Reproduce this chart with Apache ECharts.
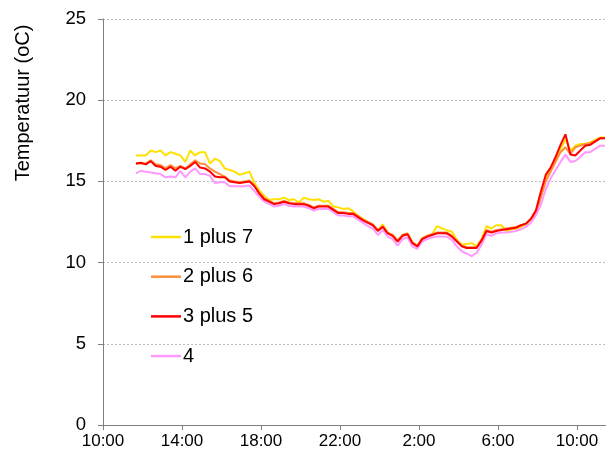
<!DOCTYPE html>
<html>
<head>
<meta charset="utf-8">
<script src="https://cdn.jsdelivr.net/npm/echarts@6/dist/echarts.min.js"></script>
<style>
  html, body { margin: 0; padding: 0; background: #fff; }
  #chart { width: 606px; height: 453px; }
</style>
</head>
<body>
<div id="chart"></div>
<script>
// Measurement times (every 15 minutes, from late morning to the next morning)
const times = [
  '11:40','11:55',
  '12:10','12:25','12:40','12:55',
  '13:10','13:25','13:40','13:55',
  '14:10','14:25','14:40','14:55',
  '15:10','15:25','15:40','15:55',
  '16:10','16:25','16:40','16:55',
  '17:10','17:25','17:40','17:55',
  '18:10','18:25','18:40','18:55',
  '19:10','19:25','19:40','19:55',
  '20:10','20:25','20:40','20:55',
  '21:10','21:25','21:40','21:55',
  '22:10','22:25','22:40','22:55',
  '23:10','23:25','23:40','23:55',
  '0:10','0:25','0:40','0:55',
  '1:10','1:25','1:40','1:55',
  '2:10','2:25','2:40','2:55',
  '3:10','3:25','3:40','3:55',
  '4:10','4:25','4:40','4:55',
  '5:10','5:25','5:40','5:55',
  '6:10','6:25','6:40','6:55',
  '7:10','7:25','7:40','7:55',
  '8:10','8:25','8:40','8:55',
  '9:10','9:25','9:40','9:55',
  '10:10','10:25','10:40','10:55',
  '11:10','11:25'
];

// Temperatures (oC)
const s1plus7 = [
  16.6,16.6,16.6,16.9,16.8,16.9,16.6,16.8,16.7,16.6,
  16.2,16.9,16.6,16.8,16.8,16.1,16.4,16.25,15.8,15.7,
  15.6,15.4,15.5,15.6,14.9,14.45,14.1,13.85,13.9,13.9,
  14.0,13.85,13.9,13.7,14.0,13.9,13.85,13.9,13.75,13.8,
  13.45,13.4,13.3,13.35,13.15,12.9,12.7,12.5,12.3,12.0,
  12.35,11.85,11.7,11.35,11.7,11.8,11.25,11.0,11.5,11.65,
  11.75,12.25,12.1,12.0,11.9,11.4,11.1,11.15,11.2,11.0,
  11.45,12.25,12.1,12.3,12.3,11.95,12.05,12.1,12.2,12.35,
  12.65,13.1,14.2,15.2,15.7,16.3,17.0,17.6,16.9,17.2,
  17.3,17.3,17.4,17.55,17.7,17.7
];
const s2plus6 = [
  16.1,16.1,16.1,16.3,16.05,16.0,15.8,16.0,15.8,15.95,
  15.8,16.05,16.3,16.1,16.05,15.8,15.6,15.45,15.3,15.05,
  15.0,14.95,15.0,15.05,14.75,14.3,13.95,13.8,13.65,13.7,
  13.8,13.7,13.65,13.65,13.65,13.55,13.4,13.5,13.5,13.5,
  13.3,13.1,13.1,13.05,13.05,12.85,12.65,12.5,12.35,12.0,
  12.25,11.85,11.7,11.35,11.7,11.8,11.25,11.05,11.5,11.65,
  11.75,11.85,11.85,11.85,11.65,11.35,11.05,10.95,10.95,10.95,
  11.4,12.0,11.9,12.0,12.05,12.1,12.15,12.2,12.3,12.4,
  12.65,13.0,14.0,15.0,15.6,16.2,16.8,17.1,16.7,17.1,
  17.2,17.3,17.35,17.5,17.65,17.65
];
const s3plus5 = [
  16.1,16.15,16.05,16.25,15.95,15.9,15.7,15.9,15.65,15.9,
  15.75,15.95,16.2,15.85,15.8,15.6,15.3,15.25,15.25,15.0,
  14.95,14.9,14.95,15.0,14.7,14.25,13.9,13.75,13.6,13.65,
  13.75,13.65,13.6,13.6,13.6,13.5,13.35,13.45,13.45,13.45,
  13.25,13.05,13.05,13.0,13.0,12.8,12.6,12.45,12.3,11.95,
  12.2,11.8,11.65,11.3,11.65,11.75,11.2,11.0,11.45,11.6,
  11.7,11.8,11.8,11.8,11.6,11.3,11.0,10.9,10.9,10.9,
  11.35,11.95,11.85,11.95,12.0,12.05,12.1,12.15,12.3,12.4,
  12.7,13.2,14.35,15.4,15.85,16.5,17.25,17.9,16.65,16.6,
  16.9,17.2,17.25,17.45,17.65,17.65
];
const s4 = [
  15.5,15.65,15.6,15.55,15.5,15.45,15.25,15.3,15.25,15.65,
  15.25,15.6,15.8,15.45,15.45,15.35,14.9,14.95,14.95,14.7,
  14.7,14.7,14.7,14.75,14.4,14.05,13.75,13.6,13.45,13.5,
  13.6,13.5,13.45,13.45,13.45,13.35,13.2,13.3,13.3,13.3,
  13.1,12.9,12.9,12.85,12.85,12.65,12.45,12.25,12.1,11.7,
  12.0,11.6,11.45,11.05,11.45,11.55,11.0,10.85,11.3,11.45,
  11.55,11.6,11.6,11.6,11.4,11.0,10.7,10.55,10.4,10.6,
  11.1,11.75,11.65,11.8,11.85,11.85,11.9,11.95,12.05,12.2,
  12.45,12.9,13.55,14.5,15.2,15.7,16.2,16.65,16.2,16.25,
  16.5,16.8,16.8,17.0,17.2,17.2
];

const seriesNames = ['1 plus 7', '2 plus 6', '3 plus 5', '4'];
const seriesColors = ['#FFE100', '#FF8F3A', '#FF0000', '#FF99FF'];
const yTicks = [0, 5, 10, 15, 20, 25];

// Hours elapsed since 10:00 on the first day
const startHour = 10;
function toOffsets(list) {
  const out = [];
  let dayShift = 0, prev = -1;
  list.forEach(t => {
    const [hh, mm] = t.split(':').map(Number);
    let h = hh + mm / 60;
    if (prev >= 0 && h + dayShift < prev) dayShift += 24;
    h += dayShift;
    prev = h;
    out.push(h - startHour);
  });
  return out;
}
const xs = toOffsets(times);
const pairs = vals => vals.map((v, i) => [xs[i], v]);

const font = 'Liberation Sans, Arial, sans-serif';
const chart = echarts.init(document.getElementById('chart'), null, { renderer: 'canvas' });

function lineSeries(idx, vals, z) {
  return {
    name: seriesNames[idx],
    type: 'line',
    data: pairs(vals),
    symbol: 'none',
    smooth: false,
    z: z,
    lineStyle: { color: seriesColors[idx], width: 2 },
    itemStyle: { color: seriesColors[idx] },
    emphasis: { disabled: true },
    animation: false
  };
}

chart.setOption({
  animation: false,
  grid: { left: 103, right: 0, top: 19, bottom: 28, containLabel: false },
  xAxis: {
    type: 'value',
    min: 0,
    max: 25.47,
    interval: 4,
    axisLine: { show: true, lineStyle: { color: '#808080', width: 1 } },
    axisTick: { show: true, length: 5, inside: false, lineStyle: { color: '#808080' } },
    splitLine: { show: false },
    axisLabel: {
      color: '#000', fontFamily: font, fontSize: 17, margin: 8,
      showMaxLabel: false,
      formatter: v => ((v + startHour) % 24) + ':00'
    }
  },
  yAxis: {
    type: 'value',
    min: yTicks[0],
    max: yTicks[yTicks.length - 1],
    interval: 5,
    axisLine: { show: true, lineStyle: { color: '#808080', width: 1 } },
    axisTick: { show: true, length: 5, inside: false, lineStyle: { color: '#808080' } },
    splitLine: { show: true, lineStyle: { color: '#BFBFBF', type: [2, 2], width: 1 } },
    axisLabel: { color: '#000', fontFamily: font, fontSize: 18.5, margin: 17 }
  },
  legend: {
    orient: 'vertical',
    left: 151,
    top: 227,
    padding: 0,
    icon: 'rect',
    itemWidth: 30,
    itemHeight: 2.5,
    itemGap: 19.7,
    data: seriesNames,
    textStyle: { color: '#000', fontFamily: font, fontSize: 20, lineHeight: 20, padding: [0, 0, 0, -3] }
  },
  graphic: [{
    type: 'text',
    x: 23,
    y: 103,
    rotation: Math.PI / 2,
    style: {
      text: 'Temperatuur (oC)',
      fill: '#000',
      font: '20px Liberation Sans, Arial, sans-serif',
      align: 'center',
      verticalAlign: 'middle'
    }
  }],
  series: [
    lineSeries(0, s1plus7, 2),
    lineSeries(1, s2plus6, 3),
    lineSeries(3, s4, 3),
    lineSeries(2, s3plus5, 4)
  ]
});
</script>
</body>
</html>
